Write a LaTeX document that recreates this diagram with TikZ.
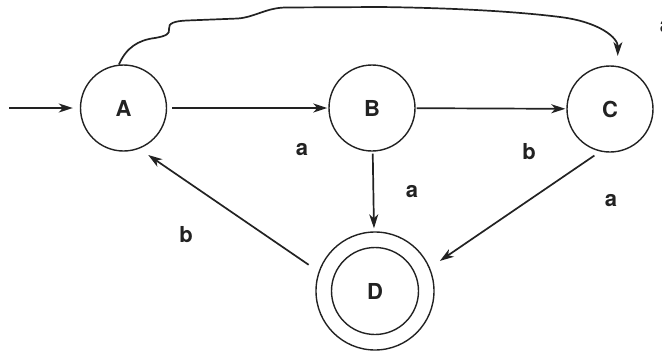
\documentclass[tikz,border=0pt]{standalone}
\usepackage{fontspec}
\setmainfont{TeX Gyre Heros}
\usetikzlibrary{arrows.meta}
\definecolor{ink}{HTML}{222222}
\tikzset{
  stateA/.style={circle, draw=ink, line width=1.4pt, minimum size=86pt, inner sep=0pt,
    font=\fontsize{22}{22}\selectfont\bfseries, text=ink},
  ring/.style={circle, draw=ink, line width=1.4pt, minimum size=118pt, inner sep=0pt},
  edge/.style={draw=ink, line width=1.7pt, -{Stealth[length=14pt,width=9pt,inset=4pt]}},
  lbl/.style={font=\fontsize{22}{22}\selectfont\bfseries, text=ink, inner sep=0pt}
}
\begin{document}
\begin{tikzpicture}[x=1pt,y=-1pt]
\useasboundingbox (0,0) rectangle (662,351);
\node[stateA] (A) at (123.5,108) {A};
\node[stateA] (B) at (372,108) {B};
\node[stateA] (C) at (610,109) {C};
\node[stateA, minimum size=87pt] (D) at (375,291) {D};
\node[ring] (Dout) at (375,291) {};
\coordinate (start) at (9,108);
\coordinate (k1) at (169,29);
\coordinate (k2) at (285,7.5);
\coordinate (k3) at (380,7);
\coordinate (k4) at (560,17);

\draw[edge, shorten >=7pt] (start) -- (A);
\draw[edge, shorten <=5pt, shorten >=1pt] (A) -- (B);
\draw[edge, shorten <=1pt, shorten >=1pt] (B) -- (C);
\draw[edge, shorten <=2pt, shorten >=3pt] (B) -- (Dout);
\draw[edge, shorten <=7pt, shorten >=12pt] (C.257) -- (Dout.23);
\draw[edge, shorten <=12pt, shorten >=11pt] (Dout.161) -- (A.291);
\draw[edge, shorten >=10pt] (A.96) .. controls (126,48) and (138,40) .. (155,38)
  .. controls (166,36) and (170,34) .. (k1)
  .. controls (168,23) and (175,21) .. (187,20.5)
  -- (238,18.5)
  .. controls (255,17) and (266,8) .. (k2)
  -- (k3)
  .. controls (460,8) and (520,12) .. (k4)
  .. controls (600,22) and (618,38) .. (C.80);

\node[lbl] (l1) at (302,150) {a};
\node[lbl] (l2) at (529,152) {b};
\node[lbl] (l3) at (412,192) {a};
\node[lbl] (l4) at (611,201) {a};
\node[lbl] (l5) at (186,235) {b};
\node[lbl] (l6) at (666,27) {a};
\end{tikzpicture}
\end{document}
